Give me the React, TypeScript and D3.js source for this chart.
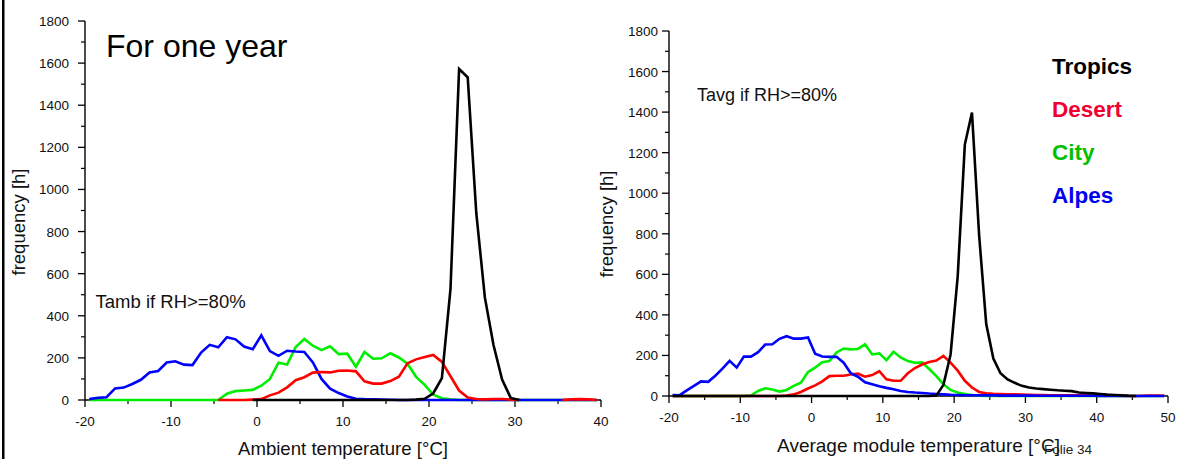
import React from "react";
import * as d3 from "d3";

// ---------- DATA ----------
// Left chart: ambient temperature bins (°C, bin centres)
const leftBins = [
  -19.5, -18.5, -17.5, -16.5, -15.5, -14.5, -13.5, -12.5, -11.5, -10.5,
  -9.5, -8.5, -7.5, -6.5, -5.5, -4.5, -3.5, -2.5, -1.5, -0.5,
  0.5, 1.5, 2.5, 3.5, 4.5, 5.5, 6.5, 7.5, 8.5, 9.5,
  10.5, 11.5, 12.5, 13.5, 14.5, 15.5, 16.5, 17.5, 18.5, 19.5,
  20.5, 21.5, 22.5, 23.5, 24.5, 25.5, 26.5, 27.5, 28.5, 29.5,
  30.5, 31.5, 32.5, 33.5, 34.5, 35.5, 36.5, 37.5, 38.5, 39.5,
];
const leftAlpes = [
  5, 10, 13, 55, 59, 76, 96, 131, 138, 178,
  184, 168, 166, 225, 262, 250, 298, 288, 254, 241,
  307, 232, 210, 234, 230, 228, 178, 100, 54, 33,
  17, 6, 4, 3, 2, 1, 0, 0, 0, 0,
  0, 0, 0, 0, 0, 0, 0, 0, 0, 0,
  0, 0, 0, 0, 0, 0, 0, 0, 0, 0,
];
const leftCity = [
  0, 0, 0, 0, 0, 0, 0, 0, 0, 0,
  0, 0, 0, 0, 0, 0, 30, 42, 45, 48,
  68, 100, 177, 168, 252, 290, 258, 237, 255, 218,
  220, 158, 228, 196, 198, 222, 202, 172, 110, 72,
  25, 8, 3, 0, 0, 0, 0, 0, 0, 0,
  0, 0, 0, 0, 0, 0, 0, 0, 0, 0,
];
const leftDesert = [
  null, null, null, null, null, null, null, null, null, null,
  null, null, null, null, null, 0, 0, 0, 0, 2,
  4, 22, 35, 60, 94, 108, 130, 133, 131, 139,
  140, 136, 89, 78, 78, 90, 111, 174, 193, 204,
  214, 181, 113, 45, 12, 5, 3, 5, 5, 2,
  0, null, null, null, null, 0, 3, 4, 3, 0,
];
const leftTropics = [
  null, null, null, null, null, null, null, null, null, null,
  null, null, null, null, null, null, null, null, null, 0,
  0, 0, 0, 0, 0, 0, 0, 0, 0, 0,
  0, 0, 0, 0, 0, 0, 0, 0, 2, 6,
  32, 104, 528, 1572, 1532, 887, 486, 261, 97, 10,
  0, null, null, null, null, null, null, null, null, null,
];

// Right chart: average module temperature bins (°C, bin centres)
const rightBins = [
  -19.5, -18.5, -17.5, -16.5, -15.5, -14.5, -13.5, -12.5, -11.5, -10.5,
  -9.5, -8.5, -7.5, -6.5, -5.5, -4.5, -3.5, -2.5, -1.5, -0.5,
  0.5, 1.5, 2.5, 3.5, 4.5, 5.5, 6.5, 7.5, 8.5, 9.5,
  10.5, 11.5, 12.5, 13.5, 14.5, 15.5, 16.5, 17.5, 18.5, 19.5,
  20.5, 21.5, 22.5, 23.5, 24.5, 25.5, 26.5, 27.5, 28.5, 29.5,
  30.5, 31.5, 32.5, 33.5, 34.5, 35.5, 36.5, 37.5, 38.5, 39.5,
  40.5, 41.5, 42.5, 43.5, 44.5, 45.5, 46.5, 47.5, 48.5, 49.5,
];
const rightAlpes = [
  5, 4, 28, 50, 72, 70, 100, 135, 173, 140,
  194, 194, 216, 254, 255, 282, 295, 283, 283, 289,
  208, 195, 193, 193, 164, 112, 95, 68, 58, 48,
  40, 33, 25, 20, 17, 15, 12, 10, 8, 6,
  5, 4, 4, 3, 3, 3, 2, 2, 2, 2,
  2, 1, 1, 1, 1, 1, 1, 1, 1, 1,
  0, 0, 0, 0, 0, 0, 0, 0, 0, 0,
];
const rightCity = [
  0, 0, 0, 0, 0, 0, 0, 0, 0, 0,
  0, 2, 25, 38, 32, 22, 30, 50, 66, 118,
  140, 167, 172, 215, 234, 230, 232, 255, 205, 210,
  177, 218, 190, 172, 164, 166, 133, 98, 58, 30,
  17, 10, 5, 2, 0, 0, 0, 0, 0, 0,
  0, 0, 0, 0, 0, 0, 0, 0, 0, 0,
  0, 0, 0, 0, 0, 0, 0, 0, 0, 0,
];
const rightDesert = [
  0, 0, 0, 0, 0, 0, 0, 0, 0, 0,
  0, 0, 0, 0, 0, 0, 2, 8, 20, 37,
  52, 72, 98, 100, 100, 106, 110, 95, 103, 122,
  82, 75, 75, 112, 138, 155, 168, 175, 198, 165,
  125, 75, 42, 20, 13, 11, 10, 9, 8, 7,
  6, 5, 5, 4, 4, 3, 3, 3, 2, 2,
  2, 1, 1, 1, 0, 0, 1, 2, 2, 1,
];
const rightTropics = [
  0, 0, 0, 0, 0, 0, 0, 0, 0, 0,
  0, 0, 0, 0, 0, 0, 0, 0, 0, 0,
  0, 0, 0, 0, 0, 0, 0, 0, 0, 0,
  0, 0, 0, 0, 0, 0, 0, 2, 55, 205,
  590, 1240, 1398, 795, 355, 185, 112, 82, 65, 50,
  42, 37, 34, 31, 28, 26, 24, 17, 15, 13,
  10, 7, 5, 3, 1, 0, null, null, null, null,
];

const yTicks = [0, 200, 400, 600, 800, 1000, 1200, 1400, 1600, 1800];
const yMinorTicks = [100, 300, 500, 700, 900, 1100, 1300, 1500, 1700];
const leftXTicks = [-20, -10, 0, 10, 20, 30, 40];
const leftXMinor = [-15, -5, 5, 15, 25, 35];
const rightXTicks = [-20, -10, 0, 10, 20, 30, 40, 50];
const rightXMinor = [-15, -5, 5, 15, 25, 35, 45];

const legendNames = ["Tropics", "Desert", "City", "Alpes"];
const legendColors = ["#000000", "#f00030", "#00c000", "#0000f0"];

const COLORS = { tropics: "#000000", desert: "#ff0000", city: "#00ee00", alpes: "#0000ff" };
const FONT = "'Liberation Sans', Arial, Helvetica, sans-serif";

type Series = { values: (number | null)[]; color: string };

function Panel(props: {
  bins: number[];
  series: Series[];
  xDomain: [number, number];
  xRange: [number, number];
  yRange: [number, number];
  xTicks: number[];
  xMinor: number[];
  xTitle: string;
  xTitleY: number;
  xTitleSize: number;
  yTitleX: number;
  yTitleY: number;
  yLabelGap: number;
}) {
  const { bins, series, xDomain, xRange, yRange, xTicks, xMinor, xTitle, xTitleY, xTitleSize, yTitleX, yTitleY, yLabelGap } = props;
  const x = d3.scaleLinear().domain(xDomain).range(xRange);
  const y = d3.scaleLinear().domain([0, 1800]).range(yRange);
  const line = d3
    .line<number | null>()
    .defined((d) => d != null)
    .x((_, i) => x(bins[i]))
    .y((d) => y(d as number));
  const x0 = xRange[0];
  const yb = yRange[0];
  return (
    <g>
      {/* y axis */}
      <line x1={x0} x2={x0} y1={y(0)} y2={y(1800)} stroke="#000" strokeWidth={1.4} />
      {yTicks.map((t) => (
        <g key={"yt" + t}>
          <line x1={x0 - 7} x2={x0} y1={y(t)} y2={y(t)} stroke="#000" strokeWidth={1.3} />
          <text x={x0 - yLabelGap} y={y(t) + 5} textAnchor="end" fontSize={13.5} fill="#111" fontFamily={FONT}>
            {t}
          </text>
        </g>
      ))}
      {yMinorTicks.map((t) => (
        <line key={"ym" + t} x1={x0 - 4} x2={x0} y1={y(t)} y2={y(t)} stroke="#000" strokeWidth={1.2} />
      ))}
      {/* x axis */}
      <line x1={xRange[0]} x2={xRange[1]} y1={yb} y2={yb} stroke="#000" strokeWidth={1.4} />
      {xTicks.map((t) => (
        <g key={"xt" + t}>
          <line x1={x(t)} x2={x(t)} y1={yb} y2={yb + 7} stroke="#000" strokeWidth={1.3} />
          <text x={x(t)} y={yb + 26} textAnchor="middle" fontSize={13.5} fill="#111" fontFamily={FONT}>
            {t}
          </text>
        </g>
      ))}
      {xMinor.map((t) => (
        <line key={"xm" + t} x1={x(t)} x2={x(t)} y1={yb} y2={yb + 4} stroke="#000" strokeWidth={1.2} />
      ))}
      {/* series */}
      {series.map((s, i) => (
        <path
          key={"s" + i}
          d={line(s.values) || ""}
          fill="none"
          stroke={s.color}
          strokeWidth={2.6}
          strokeLinejoin="miter"
          strokeMiterlimit={4}
        />
      ))}
      {/* titles */}
      <text x={(xRange[0] + xRange[1]) / 2} y={xTitleY} textAnchor="middle" fontSize={xTitleSize} fill="#111" fontFamily={FONT}>
        {xTitle}
      </text>
      <text
        transform={`translate(${yTitleX},${yTitleY}) rotate(-90)`}
        textAnchor="middle"
        fontSize={18.5}
        fill="#111"
        fontFamily={FONT}
      >
        frequency [h]
      </text>
    </g>
  );
}

export default function App() {
  return (
    <svg
      width={1182}
      height={459}
      viewBox="0 0 1182 459"
      style={{ position: "absolute", left: 0, top: 0, background: "#fff" }}
    >
      <rect x={0} y={0} width={1182} height={459} fill="#fff" />
      <rect x={2} y={0} width={2.5} height={459} fill="#000" />

      <Panel
        bins={leftBins}
        series={[
          { values: leftCity, color: COLORS.city },
          { values: leftAlpes, color: COLORS.alpes },
          { values: leftDesert, color: COLORS.desert },
          { values: leftTropics, color: COLORS.tropics },
        ]}
        xDomain={[-20, 40]}
        xRange={[85, 601]}
        yRange={[400, 21]}
        xTicks={leftXTicks}
        xMinor={leftXMinor}
        xTitle="Ambient temperature [°C]"
        xTitleY={455}
        xTitleSize={18.6}
        yTitleX={25}
        yTitleY={222}
        yLabelGap={16}
      />
      <Panel
        bins={rightBins}
        series={[
          { values: rightCity, color: COLORS.city },
          { values: rightDesert, color: COLORS.desert },
          { values: rightAlpes, color: COLORS.alpes },
          { values: rightTropics, color: COLORS.tropics },
        ]}
        xDomain={[-20, 50]}
        xRange={[669, 1168]}
        yRange={[396, 31]}
        xTicks={rightXTicks}
        xMinor={rightXMinor}
        xTitle="Average module temperature [°C]"
        xTitleY={452}
        xTitleSize={19}
        yTitleX={613}
        yTitleY={224}
        yLabelGap={11}
      />

      <text x={106} y={57} fontSize={32} fill="#000" fontFamily={FONT}>
        For one year
      </text>
      <text x={95.5} y={308} fontSize={18.5} fill="#111" fontFamily={FONT}>
        Tamb if RH&gt;=80%
      </text>
      <text x={697} y={101} fontSize={18} fill="#111" fontFamily={FONT}>
        Tavg if RH&gt;=80%
      </text>

      {legendNames.map((n, i) => (
        <text
          key={n}
          x={1052}
          y={[74, 116.5, 160, 202.5][i]}
          fontSize={22.5}
          fontWeight="bold"
          letterSpacing={0}
          fill={legendColors[i]}
          fontFamily={FONT}
        >
          {n}
        </text>
      ))}

      <text x={1092} y={454} textAnchor="end" fontSize={13.5} fill="#222" fontFamily={FONT}>
        Folie 34
      </text>
    </svg>
  );
}
